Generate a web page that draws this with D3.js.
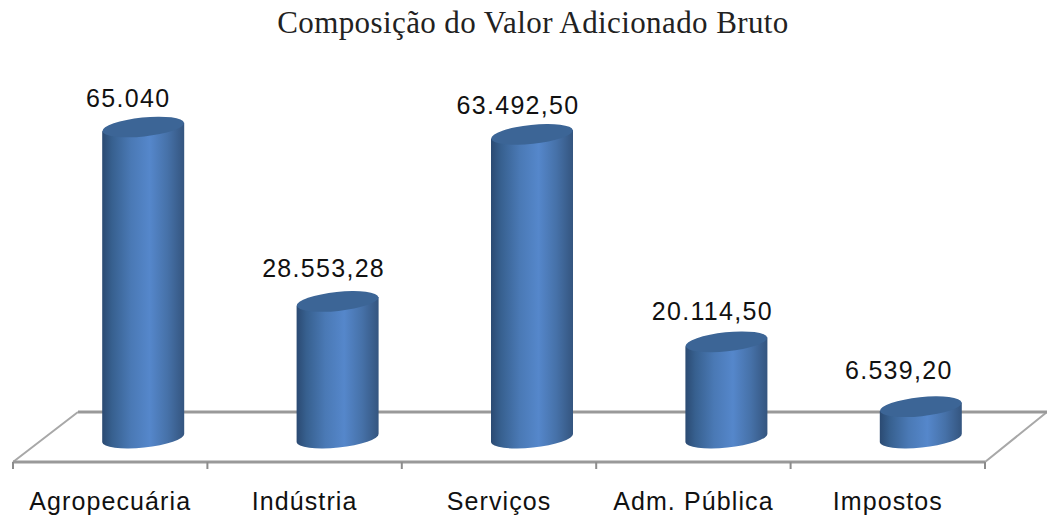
<!DOCTYPE html>
<html>
<head>
<meta charset="utf-8">
<style>
  body { margin: 0; background: #fff; overflow: hidden; }
  .title { font-family: "Liberation Serif", serif; font-size: 31px; letter-spacing: 0.4px; fill: #222; }
  .val { font-family: "Liberation Sans", Arial, sans-serif; font-size: 25px; letter-spacing: 1.3px; fill: #111; text-anchor: middle; }
  .tick text { font-family: "Liberation Sans", Arial, sans-serif; font-size: 25px; letter-spacing: 1.1px; fill: #111; }
</style>
</head>
<body>
<svg id="chart" width="1047" height="520"></svg>
<script src="https://cdnjs.cloudflare.com/ajax/libs/d3/7.8.5/d3.min.js"></script>
<script>
const categories = ["Agropecuária", "Indústria", "Serviços", "Adm. Pública", "Impostos"];
const values = [65040, 28553.28, 63492.5, 20114.5, 6539.2];
const valueLabels = ["65.040", "28.553,28", "63.492,50", "20.114,50", "6.539,20"];

const svg = d3.select("#chart");

// front edge of the floor carries the labels, bars stand further back
const floorFront = 462, floorBack = 412, depthX = 65;
const x = d3.scaleBand().domain(categories).range([13, 985]);
const y = d3.scaleLinear().domain([0, 65040]).range([438, 127]);
const barOffset = 33;
const rx = 41, ry = 9.5, tilt = -6;
// data labels don't sit at a constant distance in the original
const labelGap = [20, 24, 20, 22, 28];
const labelShift = [-15, -14, -14, -14, -22];

const defs = svg.append("defs");
const grad = defs.append("linearGradient").attr("id", "cyl");
grad.selectAll("stop")
  .data([[0, "#2b4a72"], [0.12, "#37608f"], [0.35, "#4a79b5"], [0.58, "#5587cb"], [0.8, "#4671a8"], [1, "#34557f"]])
  .join("stop")
  .attr("offset", d => d[0])
  .attr("stop-color", d => d[1]);

// floor
const [x0, x1] = x.range();
svg.append("path")
  .attr("d", `M${x0},${floorFront}L${x0 + depthX},${floorBack}M${x1},${floorFront}L${x1 + depthX - 3},${floorBack}`)
  .attr("fill", "none").attr("stroke", "#a8a8a8").attr("stroke-width", 2);
svg.append("path")
  .attr("d", `M${x0},${floorFront}L${x1},${floorFront}M${x0 + depthX},${floorBack}L${x1 + depthX - 3},${floorBack}`)
  .attr("fill", "none").attr("stroke", "#999").attr("stroke-width", 3);

// band edge ticks
svg.append("g").selectAll("line")
  .data(d3.range(categories.length + 1))
  .join("line")
  .attr("x1", i => x0 + i * x.step())
  .attr("x2", i => x0 + i * x.step())
  .attr("y1", floorFront)
  .attr("y2", floorFront + 7)
  .attr("stroke", "#8c8c8c").attr("stroke-width", 2);

// category labels
const axis = svg.append("g")
  .attr("transform", `translate(0,${floorFront})`)
  .call(d3.axisBottom(x).tickSize(0).tickPadding(30));
axis.select(".domain").remove();

const bars = svg.append("g").selectAll("g")
  .data(categories.map((c, i) => ({ c, v: values[i], label: valueLabels[i], i })))
  .join("g")
  .attr("transform", d => `translate(${x(d.c) + x.bandwidth() / 2 + barOffset},0)`);

// body: tilted bottom rim up to tilted top rim
bars.append("path")
  .attr("fill", "url(#cyl)")
  .attr("d", d => {
    const dy = rx * Math.tan(-tilt * Math.PI / 180);
    const t = y(d.v), b = y(0);
    return `M${-rx},${t + dy}L${-rx},${b + dy}`
      + `A${rx},${ry} ${tilt} 0 0 ${rx},${b - dy}`
      + `L${rx},${t - dy}Z`;
  });

// top cap
bars.append("ellipse")
  .attr("rx", rx).attr("ry", ry)
  .attr("transform", d => `translate(0,${y(d.v)}) rotate(${tilt})`)
  .attr("fill", "#3c6596");

bars.append("text")
  .attr("class", "val")
  .attr("x", d => labelShift[d.i])
  .attr("y", d => y(d.v) - labelGap[d.i])
  .text(d => d.label);

svg.append("text")
  .attr("class", "title")
  .attr("x", 533)
  .attr("y", 33)
  .attr("text-anchor", "middle")
  .text("Composição do Valor Adicionado Bruto");
</script>
</body>
</html>
